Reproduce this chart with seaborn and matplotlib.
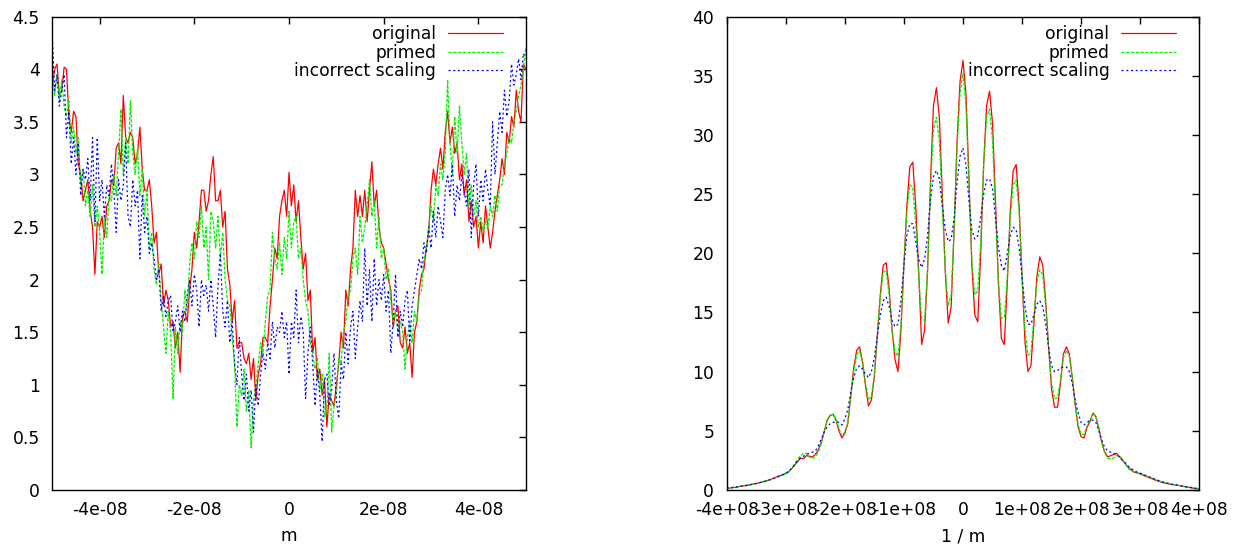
import numpy as np
import matplotlib
matplotlib.use("Agg")
import matplotlib.pyplot as plt
import seaborn as sns

# left panel: samples every 0.5e-9 m from -5e-8 to 5e-8
m_start, m_step = -5e-8, 0.5e-9
m_original = [
    3.85, 4.0, 4.05, 3.75, 3.8, 4.02, 4.0, 3.55, 3.4, 3.6,
    3.55, 3.1, 3.0, 2.75, 2.85, 2.95, 2.65, 2.5, 2.05, 2.55,
    2.5, 2.6, 2.4, 2.7, 2.75, 2.95, 2.9, 3.25, 3.3, 3.1,
    3.75, 3.35, 3.3, 3.4, 3.35, 3.1, 3.2, 3.45, 3.05, 2.85,
    2.85, 2.95, 2.7, 2.35, 2.45, 2.05, 2.15, 1.75, 1.9, 1.8,
    1.55, 1.6, 1.35, 1.5, 1.12, 1.65, 1.7, 1.6, 1.9, 2.1,
    2.45, 2.3, 2.55, 2.85, 2.85, 2.65, 2.75, 3.0, 3.17, 2.75,
    2.75, 2.85, 2.5, 2.65, 2.1, 1.95, 1.6, 1.8, 1.35, 1.4,
    1.4, 1.25, 1.2, 1.3, 1.05, 1.25, 0.85, 1.1, 1.2, 1.45,
    1.45, 1.4, 1.75, 2.0, 2.3, 2.2, 2.6, 2.75, 2.85, 2.6,
    3.02, 2.7, 2.9, 2.55, 2.75, 2.4, 2.1, 2.25, 1.8, 1.9,
    1.3, 1.45, 1.05, 1.15, 0.9, 1.05, 0.6, 0.92, 0.85, 0.8,
    1.0, 1.2, 1.5, 1.35, 1.9, 1.75, 2.1, 2.3, 2.85, 2.6,
    2.8, 2.6, 2.85, 2.55, 2.85, 3.12, 2.7, 2.85, 2.5, 2.35,
    2.3, 2.15, 2.0, 1.9, 1.55, 1.7, 1.75, 1.4, 1.35, 1.55,
    1.3, 1.4, 1.07, 1.5, 1.6, 1.9, 2.05, 2.1, 2.3, 2.45,
    2.85, 3.05, 2.9, 3.1, 3.25, 3.05, 3.4, 3.6, 3.3, 3.45,
    3.2, 3.3, 2.95, 3.1, 2.8, 2.95, 2.55, 2.75, 2.5, 2.6,
    2.3, 2.55, 2.35, 2.7, 2.5, 2.3, 2.45, 2.65, 2.8, 2.95,
    3.15, 3.0, 3.4, 3.3, 3.55, 3.45, 3.8, 3.6, 3.5, 4.05,
    4.0,
]
m_primed = [
    4.0, 3.75, 3.95, 3.7, 3.9, 3.65, 3.55, 3.7, 3.3, 3.45,
    3.2, 3.35, 2.9, 3.05, 2.7, 2.85, 2.6, 2.9, 2.5, 2.7,
    2.45, 2.05, 2.6, 2.4, 2.8, 2.75, 3.0, 2.8, 3.2, 3.62,
    3.0, 3.35, 3.1, 3.7, 3.2, 3.0, 3.25, 2.8, 3.05, 2.6,
    2.85, 2.3, 2.45, 2.1, 1.95, 2.15, 1.8, 1.55, 1.3, 1.7,
    1.5, 0.87, 1.55, 1.3, 1.6, 1.5, 1.9, 1.7, 2.15, 2.35,
    2.2, 2.55, 2.4, 2.7, 2.3, 2.5, 2.0, 2.65, 2.55, 2.3,
    2.6, 2.2, 2.45, 2.0, 1.8, 1.75, 1.45, 1.2, 0.6, 1.0,
    0.9, 1.15, 0.75, 0.95, 0.4, 0.85, 1.0, 1.2, 1.4, 1.3,
    1.6, 1.85, 1.9, 2.45, 2.2, 2.1, 2.35, 2.05, 2.4, 2.2,
    2.65, 2.3, 2.55, 2.6, 2.2, 2.3, 2.0, 1.8, 1.7, 1.4,
    1.3, 1.15, 1.25, 0.95, 1.1, 0.7, 0.75, 1.3, 0.55, 0.8,
    0.9, 1.25, 1.2, 1.5, 1.6, 1.85, 1.9, 2.2, 2.3, 2.05,
    2.6, 2.35, 2.5, 2.7, 2.95, 2.6, 2.75, 2.3, 2.6, 2.2,
    2.3, 2.0, 2.1, 1.8, 1.6, 1.7, 1.5, 1.6, 1.5, 1.15,
    1.45, 1.6, 1.4, 1.7, 1.6, 1.85, 1.9, 2.2, 2.3, 2.5,
    2.7, 2.55, 2.9, 2.8, 3.1, 2.95, 3.2, 3.9, 3.3, 3.0,
    3.55, 3.2, 3.65, 3.3, 3.0, 3.2, 2.7, 2.9, 2.6, 2.75,
    2.5, 2.6, 2.45, 2.55, 2.5, 2.7, 2.6, 2.8, 2.65, 2.9,
    2.9, 3.1, 3.2, 3.35, 3.3, 3.5, 3.6, 3.75, 3.85, 4.0,
    4.2,
]
m_incorrect = [
    4.3, 3.8, 3.95, 3.65, 3.8, 3.95, 3.35, 3.6, 3.1, 3.35,
    3.0, 3.3, 2.8, 3.05, 2.95, 3.15, 2.75, 3.35, 2.55, 3.35,
    2.75, 2.95, 2.6, 2.9, 2.8, 3.1, 2.85, 2.45, 2.95, 2.75,
    2.9, 3.3, 2.6, 2.5, 2.95, 2.7, 2.85, 2.2, 2.8, 2.45,
    2.6, 2.25, 2.35, 2.2, 2.0, 2.1, 1.7, 1.85, 1.65, 1.8,
    1.85, 1.5, 1.6, 1.75, 1.5, 1.7, 1.6, 1.85, 2.0, 1.75,
    2.05, 1.9, 1.55, 2.0, 1.85, 1.95, 1.7, 2.0, 1.75, 1.45,
    1.95, 2.25, 1.7, 1.55, 1.8, 1.4, 1.6, 1.2, 1.0, 1.45,
    1.1, 0.85, 1.1, 0.75, 0.95, 0.55, 1.0, 0.8, 1.1, 1.3,
    1.15, 1.4, 1.25, 1.6, 1.35, 1.55, 1.5, 1.7, 1.45, 1.6,
    1.1, 1.6, 1.45, 1.9, 1.4, 1.65, 1.5, 0.87, 1.3, 1.55,
    1.2, 0.8, 1.15, 0.9, 0.46, 1.05, 1.1, 0.8, 0.95, 1.3,
    0.85, 0.68, 1.2, 1.05, 1.5, 1.2, 1.55, 1.7, 1.25, 1.55,
    1.8, 1.6, 2.3, 1.75, 2.1, 1.6, 2.2, 1.75, 2.0, 1.8,
    2.05, 1.7, 1.9, 1.3, 1.6, 2.05, 1.45, 1.7, 1.55, 1.8,
    1.9, 1.4, 1.75, 1.9, 2.05, 2.2, 2.1, 2.35, 2.25, 2.5,
    2.3, 2.65, 2.4, 2.7, 2.55, 2.4, 2.85, 3.0, 2.8, 3.1,
    2.6, 2.9, 2.75, 3.0, 2.85, 2.7, 3.05, 2.4, 2.9, 3.1,
    2.6, 2.95, 2.75, 3.05, 2.85, 2.7, 3.5, 3.0, 3.3, 3.6,
    3.4, 3.8, 3.55, 3.7, 4.05, 3.85, 3.95, 4.1, 3.9, 4.15,
    4.1,
]

# right panel: samples every 5e6 1/m from -4e8 to 4e8
k_start, k_step = -4e8, 5e6
k_original = [
    0.12, 0.16, 0.2, 0.22, 0.28, 0.32, 0.36, 0.38, 0.44, 0.5,
    0.55, 0.6, 0.68, 0.72, 0.82, 0.9, 1.0, 1.12, 1.2, 1.3,
    1.4, 1.55, 1.8, 2.1, 2.4, 2.7, 2.65, 2.9, 2.85, 2.8,
    3.0, 3.4, 4.0, 4.9, 5.9, 6.3, 6.4, 5.9, 5.0, 4.4,
    4.8, 5.6, 7.9, 10.3, 11.8, 12.1, 10.8, 8.8, 7.1, 7.6,
    9.6, 13.0, 16.5,
    19.0, 19.2, 17.0, 13.5, 11.0, 10.0, 13.5, 19.0, 24.0, 27.3,
    27.7, 24.0, 18.5, 12.3, 13.5, 18.5, 26.0, 32.5, 34.0, 31.5,
    25.0, 18.5, 14.1, 15.5, 22.0, 29.5, 34.5, 36.3,
    33.5, 26.5, 19.0, 14.8, 14.2, 20.0, 27.5, 32.5, 33.7, 31.0,
    24.5, 17.5, 12.8, 12.3, 17.5, 23.5, 27.0, 27.5, 24.0, 18.0,
    12.5, 10.0, 10.5, 14.0, 18.0, 19.7, 19.0, 16.0,
    12.0, 8.5, 7.0, 7.0, 9.0, 11.5, 12.1, 11.5, 9.5, 7.2,
    5.3, 4.5, 4.4, 5.3, 5.8, 6.5, 6.2, 5.2, 4.0, 3.2,
    2.8, 2.9, 3.0,
    3.1, 2.8, 2.5, 2.2, 1.9, 1.7, 1.5, 1.45, 1.35, 1.25,
    1.15, 1.05, 0.95, 0.85, 0.75, 0.68, 0.6, 0.55, 0.5, 0.45,
    0.42, 0.38, 0.33, 0.28, 0.23, 0.2, 0.15, 0.12, 0.08,
]
k_primed = [
    0.15, 0.18, 0.22, 0.26, 0.3, 0.34, 0.38, 0.42, 0.46, 0.5,
    0.55, 0.6, 0.65, 0.72, 0.8, 0.88, 0.98, 1.08, 1.15, 1.25,
    1.35, 1.5, 1.8, 2.2, 2.6, 2.9, 3.1, 3.1, 2.8, 2.65,
    2.8, 3.2, 3.9, 4.9, 5.8, 6.3, 6.4, 6.0, 5.2, 4.6,
    4.9, 5.7, 7.8, 10.0, 11.4, 11.8, 10.8, 9.0, 7.6, 7.9,
    9.8, 13.0, 16.3,
    18.4, 18.5, 16.5, 13.5, 11.7, 11.3, 14.0, 19.0, 23.5, 25.8,
    25.5, 22.5, 18.0, 14.5, 14.3, 18.5, 25.5, 30.5, 31.5, 29.5,
    24.0, 18.5, 15.6, 16.5, 22.0, 29.0, 33.5, 35.2,
    32.5, 26.0, 19.5, 16.5, 16.8, 21.0, 27.5, 31.5, 32.2, 29.5,
    23.5, 17.5, 14.5, 14.6, 18.0, 23.0, 25.8, 26.2, 23.5, 18.0,
    13.5, 11.4, 11.6, 14.5, 17.5, 18.6, 18.2, 15.5,
    12.0, 9.0, 7.7, 7.8, 9.3, 11.2, 11.8, 11.3, 9.5, 7.3,
    5.5, 4.7, 4.7, 5.4, 5.9, 6.4, 6.2, 5.2, 4.0, 3.1,
    2.7, 2.6, 2.7,
    2.9, 2.9, 2.6, 2.2, 1.8, 1.6, 1.5, 1.45, 1.4, 1.3,
    1.2, 1.1, 1.0, 0.9, 0.8, 0.72, 0.64, 0.58, 0.52, 0.47,
    0.43, 0.39, 0.34, 0.3, 0.26, 0.22, 0.18, 0.14, 0.1,
]
k_incorrect = [
    0.14, 0.18, 0.2, 0.25, 0.28, 0.33, 0.36, 0.4, 0.45, 0.5,
    0.55, 0.62, 0.68, 0.75, 0.82, 0.9, 1.0, 1.1, 1.2, 1.3,
    1.42, 1.6, 1.85, 2.15, 2.45, 2.7, 2.85, 3.0, 3.1, 3.2,
    3.3, 3.7, 4.3, 4.9, 5.3, 5.6, 5.7, 5.8, 5.7, 5.5,
    6.0, 6.8, 8.3, 9.5, 10.3, 10.5, 10.2, 9.8, 9.5, 10.0,
    11.2, 13.0, 14.8,
    16.0, 16.3, 15.5, 14.3, 13.8, 14.0, 16.0, 19.0, 21.5, 22.5,
    22.5, 21.0, 19.5, 18.8, 19.5, 21.5, 24.5, 26.5, 27.0, 26.3,
    24.0, 22.0, 21.0, 21.2, 23.0, 26.0, 28.2, 28.9,
    27.5, 24.5, 22.0, 21.2, 21.5, 23.0, 25.0, 26.2, 26.3, 25.5,
    23.0, 20.5, 19.0, 18.5, 20.0, 21.5, 22.2, 22.0, 20.5, 18.0,
    15.5, 14.0, 14.0, 14.8, 15.7, 16.0, 15.5, 14.0,
    12.0, 10.5, 10.0, 10.1, 10.3, 10.4, 10.4, 10.0, 9.0, 7.6,
    6.5, 5.7, 5.5, 5.7, 5.9, 5.9, 5.7, 5.0, 4.2, 3.6,
    3.3, 3.2, 3.1,
    3.0, 2.8, 2.5, 2.3, 2.0, 1.8, 1.65, 1.5, 1.42, 1.32,
    1.22, 1.12, 1.02, 0.92, 0.82, 0.74, 0.66, 0.6, 0.54, 0.48,
    0.44, 0.4, 0.35, 0.3, 0.26, 0.22, 0.18, 0.14, 0.1,
]

series_names = ["original", "primed", "incorrect scaling"]
colors = ["#ff0000", "#00f000", "#0000ff"]
styles = ["-", (0, (2.6, 1.2)), (0, (1.6, 2.2))]

m_ticks = [-4e-8, -2e-8, 0, 2e-8, 4e-8]
m_tick_labels = ["-4e-08", "-2e-08", "0", "2e-08", "4e-08"]
m_yticks = [0, 0.5, 1, 1.5, 2, 2.5, 3, 3.5, 4, 4.5]
m_ytick_labels = ["0", "0.5", "1", "1.5", "2", "2.5", "3", "3.5", "4", "4.5"]

k_ticks = [-4e8, -3e8, -2e8, -1e8, 0, 1e8, 2e8, 3e8, 4e8]
k_tick_labels = ["-4e+08", "-3e+08", "-2e+08", "-1e+08", "0",
                 "1e+08", "2e+08", "3e+08", "4e+08"]
k_yticks = [0, 5, 10, 15, 20, 25, 30, 35, 40]
k_ytick_labels = ["0", "5", "10", "15", "20", "25", "30", "35", "40"]

sns.set_style("white")
plt.rcParams['font.family'] = ['DejaVu Sans']
plt.rcParams['text.color'] = 'black'
plt.rcParams['axes.labelcolor'] = 'black'
plt.rcParams['xtick.color'] = 'black'
plt.rcParams['ytick.color'] = 'black'
fs = 12.3

fig = plt.figure(figsize=(12.42, 5.5), dpi=100)
ax1 = fig.add_axes([0.0421, 0.1091, 0.3812, 0.8606])
ax2 = fig.add_axes([0.5851, 0.1091, 0.3805, 0.8606])


def draw(ax, start, step, series, xlim, ylim, xt, xtl, yt, ytl, xlabel):
    for vals, name, c, ls in zip(series, series_names, colors, styles):
        x = start + step * np.arange(len(vals))
        sns.lineplot(x=x, y=vals, ax=ax, color=c, linestyle=ls, linewidth=0.9,
                     label=name, estimator=None, sort=False)
    ax.set_xlim(*xlim)
    ax.set_ylim(*ylim)
    ax.set_xticks(xt, xtl)
    ax.set_yticks(yt, ytl)
    ax.tick_params(direction="in", length=5, width=1, top=True, right=True,
                   labelsize=fs, colors="black", labelcolor="black")
    ax.tick_params(axis="x", pad=8)
    ax.tick_params(axis="y", pad=9)
    for s in ax.spines.values():
        s.set_visible(True)
        s.set_color("black")
        s.set_linewidth(1.0)
    ax.set_xlabel(xlabel, fontsize=fs, labelpad=6, color="black")
    ax.set_ylabel("")
    leg = ax.legend(loc="upper right", bbox_to_anchor=(0.951, 0.982), frameon=False,
                    markerfirst=False, handlelength=3.2, handletextpad=0.7,
                    labelspacing=0.02, borderpad=0, borderaxespad=0, fontsize=fs)
    for t in leg.get_texts():
        t.set_color("black")


draw(ax1, m_start, m_step, [m_original, m_primed, m_incorrect],
     (-5e-8, 5e-8), (0, 4.5), m_ticks, m_tick_labels, m_yticks, m_ytick_labels, "m")
draw(ax2, k_start, k_step, [k_original, k_primed, k_incorrect],
     (-4e8, 4e8), (0, 40), k_ticks, k_tick_labels, k_yticks, k_ytick_labels, "1 / m")

fig.savefig("out.png", dpi=100)
